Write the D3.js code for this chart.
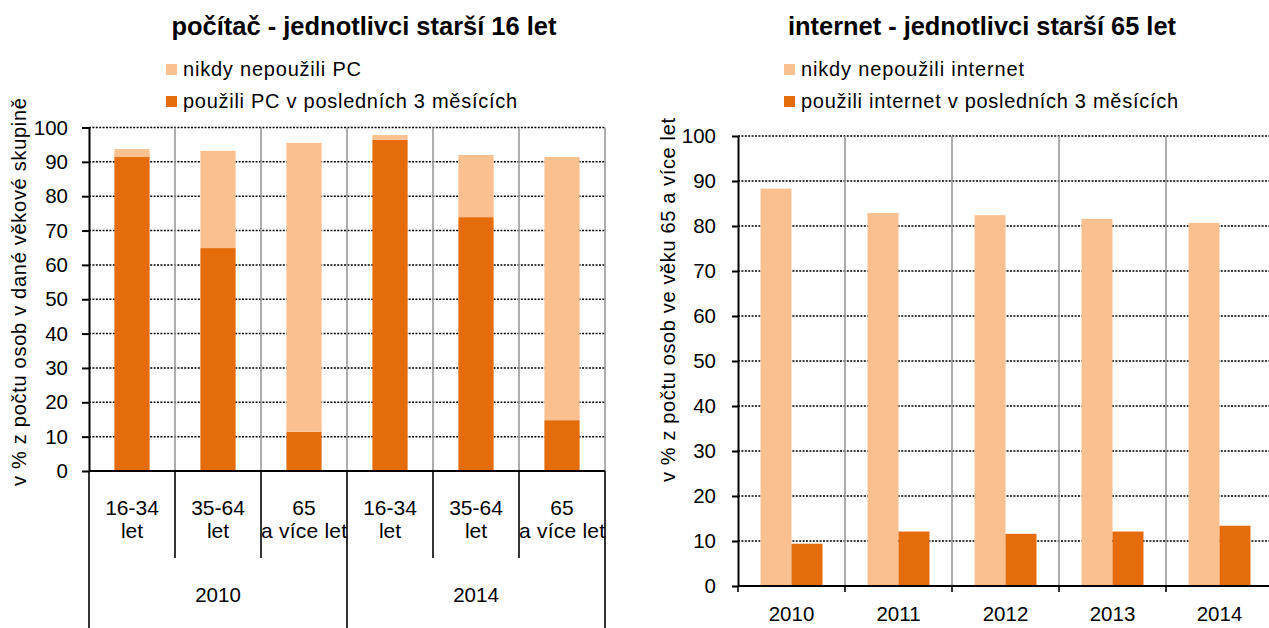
<!DOCTYPE html>
<html>
<head>
<meta charset="utf-8">
<script src="https://cdn.jsdelivr.net/npm/d3@7"></script>
<style>
body { margin: 0; background: #fff; }
text { font-family: "Liberation Sans", Arial, sans-serif; fill: #000; }
</style>
</head>
<body>
<script>
// počítač - jednotlivci starší 16 let (stacked)
var ageGroups = [["16-34", "let"], ["35-64", "let"], ["65", "a více let"]];
var pcYears = ["2010", "2014"];
var pcUsed = [91.4, 64.9, 11.4, 96.4, 73.9, 14.8];
var pcNever = [2.3, 28.3, 84.1, 1.4, 18.1, 76.6];

// internet - jednotlivci starší 65 let (grouped)
var netYears = ["2010", "2011", "2012", "2013", "2014"];
var netNever = [88.3, 82.9, 82.4, 81.6, 80.7];
var netUsed = [9.4, 12.1, 11.6, 12.1, 13.4];

var yTicks = [0, 10, 20, 30, 40, 50, 60, 70, 80, 90, 100];
var colorNever = "#FAC090";
var colorUsed = "#E46C0A";

var svg = d3.select("body").append("svg")
    .attr("width", 1269)
    .attr("height", 628);

function dotted(g) {
    g.style("stroke", "#000")
        .style("stroke-width", "1.5px")
        .style("stroke-dasharray", "2,1.4");
}

function legend(g, x, labels, lens) {
    var colors = [colorNever, colorUsed];
    var ys = [69, 101];
    for (var i = 0; i < 2; i++) {
        g.append("rect")
            .attr("x", x).attr("y", ys[i] - 5)
            .attr("width", 11).attr("height", 11)
            .style("fill", colors[i]);
        g.append("text")
            .attr("x", x + 17).attr("y", ys[i] + 7)
            .attr("textLength", lens[i]).attr("lengthAdjust", "spacing")
            .style("font-size", "20px")
            .text(labels[i]);
    }
}

/* LEFT CHART */
var left = svg.append("g");
var pcData = [];
pcYears.forEach(function(yr, i) {
    ageGroups.forEach(function(a, j) {
        var k = i * 3 + j;
        pcData.push({idx: k, year: yr, age: a, used: pcUsed[k], never: pcNever[k]});
    });
});

var xL = d3.scaleBand().domain(d3.range(pcData.length)).range([89, 605])
    .paddingInner(0.59).paddingOuter(0.295);
var edgeL = d3.scaleLinear().domain([0, pcData.length]).range([89, 605]);
var yL = d3.scaleLinear().domain([0, 100]).range([471, 127.5]);

//gridlines
left.append("g").selectAll("line")
    .data(yTicks.slice(1))
    .enter().append("line")
    .attr("x1", 89).attr("x2", 605)
    .attr("y1", function(d) { return yL(d); })
    .attr("y2", function(d) { return yL(d); })
    .call(dotted);

left.append("g").selectAll("line")
    .data(d3.range(1, pcData.length + 1))
    .enter().append("line")
    .attr("x1", function(d) { return edgeL(d); })
    .attr("x2", function(d) { return edgeL(d); })
    .attr("y1", yL(100)).attr("y2", yL(0))
    .style("stroke", "#999").style("stroke-width", "1.6px");

//bars
left.append("g").selectAll("rect")
    .data(pcData)
    .enter().append("rect")
    .attr("x", function(d) { return xL(d.idx); })
    .attr("width", xL.bandwidth())
    .attr("y", function(d) { return yL(d.used); })
    .attr("height", function(d) { return yL(0) - yL(d.used); })
    .style("fill", colorUsed);

left.append("g").selectAll("rect")
    .data(pcData)
    .enter().append("rect")
    .attr("x", function(d) { return xL(d.idx); })
    .attr("width", xL.bandwidth())
    .attr("y", function(d) { return yL(d.used + d.never); })
    .attr("height", function(d) { return yL(d.used) - yL(d.used + d.never); })
    .style("fill", colorNever);

//y axis
var axL = left.append("g")
    .attr("transform", "translate(89,0)")
    .call(d3.axisLeft(yL).tickValues(yTicks).tickSize(7).tickSizeOuter(0).tickPadding(14));
axL.selectAll("text").style("font-size", "20.5px");
axL.selectAll("line, path").style("stroke", "#000").style("stroke-width", "2px");

//x axis, multi level
left.append("line")
    .attr("x1", 89).attr("x2", 605).attr("y1", yL(0)).attr("y2", yL(0))
    .style("stroke", "#000").style("stroke-width", "2px");
left.append("g").selectAll("line")
    .data(d3.range(0, pcData.length + 1))
    .enter().append("line")
    .attr("x1", function(d) { return edgeL(d); })
    .attr("x2", function(d) { return edgeL(d); })
    .attr("y1", yL(0))
    .attr("y2", function(d) { return d % 3 == 0 ? 628 : 558; })
    .style("stroke", "#000").style("stroke-width", "1.6px");

var catLabels = left.append("g").selectAll("text")
    .data(pcData)
    .enter().append("text")
    .attr("text-anchor", "middle")
    .style("font-size", "21px");
catLabels.append("tspan")
    .attr("x", function(d) { return xL(d.idx) + xL.bandwidth() / 2; })
    .attr("y", 515)
    .text(function(d) { return d.age[0]; });
catLabels.append("tspan")
    .attr("x", function(d) { return xL(d.idx) + xL.bandwidth() / 2; })
    .attr("y", 538)
    .attr("textLength", function(d) { return d.age[1].length > 3 ? 86 : null; })
    .text(function(d) { return d.age[1]; });

left.append("g").selectAll("text")
    .data(pcYears)
    .enter().append("text")
    .attr("x", function(d, i) { return edgeL(i * 3 + 1.5); })
    .attr("y", 602)
    .attr("text-anchor", "middle")
    .style("font-size", "20.5px")
    .text(function(d) { return d; });

left.append("text")
    .attr("transform", "translate(26,292) rotate(-90)")
    .attr("text-anchor", "middle")
    .attr("textLength", 388).attr("lengthAdjust", "spacing")
    .style("font-size", "20px")
    .text("v % z počtu osob v dané věkové skupině");

left.append("text")
    .attr("x", 364).attr("y", 35)
    .attr("text-anchor", "middle")
    .attr("textLength", 385).attr("lengthAdjust", "spacingAndGlyphs")
    .style("font-size", "26px").style("font-weight", "bold")
    .text("počítač - jednotlivci starší 16 let");

legend(left, 166, ["nikdy nepoužili PC", "použili PC v posledních 3 měsících"], [178, 334]);

/* RIGHT CHART */
var right = svg.append("g");
var series = ["never", "used"];
var netData = netYears.map(function(yr, i) { return {year: yr, never: netNever[i], used: netUsed[i]}; });

var xR = d3.scaleBand().domain(netYears).range([738, 1273]).padding(0);
var xInner = d3.scaleBand().domain(series).range([0, xR.bandwidth()])
    .paddingInner(0).paddingOuter(0.726);
var yR = d3.scaleLinear().domain([0, 100]).range([586, 136]);

right.append("g").selectAll("line")
    .data(yTicks.slice(1))
    .enter().append("line")
    .attr("x1", 738).attr("x2", 1269)
    .attr("y1", function(d) { return yR(d); })
    .attr("y2", function(d) { return yR(d); })
    .call(dotted);

right.append("g").selectAll("line")
    .data(netYears.slice(1))
    .enter().append("line")
    .attr("x1", function(d) { return xR(d); })
    .attr("x2", function(d) { return xR(d); })
    .attr("y1", yR(100)).attr("y2", yR(0))
    .style("stroke", "#999").style("stroke-width", "1.6px");

var groups = right.append("g").selectAll("g")
    .data(netData)
    .enter().append("g")
    .attr("transform", function(d) { return "translate(" + xR(d.year) + ",0)"; });
groups.selectAll("rect")
    .data(function(d) { return series.map(function(s) { return {key: s, value: d[s]}; }); })
    .enter().append("rect")
    .attr("x", function(d) { return xInner(d.key); })
    .attr("width", xInner.bandwidth())
    .attr("y", function(d) { return yR(d.value); })
    .attr("height", function(d) { return yR(0) - yR(d.value); })
    .style("fill", function(d) { return d.key == "never" ? colorNever : colorUsed; });

var axR = right.append("g")
    .attr("transform", "translate(738,0)")
    .call(d3.axisLeft(yR).tickValues(yTicks).tickSize(6).tickSizeOuter(0).tickPadding(16));
axR.selectAll("text").style("font-size", "20.5px");
axR.selectAll("line, path").style("stroke", "#000").style("stroke-width", "2px");

right.append("line")
    .attr("x1", 738).attr("x2", 1269).attr("y1", yR(0)).attr("y2", yR(0))
    .style("stroke", "#000").style("stroke-width", "2px");
right.append("g").selectAll("line")
    .data(netYears)
    .enter().append("line")
    .attr("x1", function(d) { return xR(d); })
    .attr("x2", function(d) { return xR(d); })
    .attr("y1", yR(0)).attr("y2", yR(0) + 6)
    .style("stroke", "#000").style("stroke-width", "1.6px");

right.append("g").selectAll("text")
    .data(netYears)
    .enter().append("text")
    .attr("x", function(d) { return xR(d) + xR.bandwidth() / 2; })
    .attr("y", 621)
    .attr("text-anchor", "middle")
    .style("font-size", "20.5px")
    .text(function(d) { return d; });

right.append("text")
    .attr("transform", "translate(675,300) rotate(-90)")
    .attr("text-anchor", "middle")
    .attr("textLength", 364).attr("lengthAdjust", "spacing")
    .style("font-size", "20px")
    .text("v % z počtu osob ve věku 65 a více let");

right.append("text")
    .attr("x", 982).attr("y", 35)
    .attr("text-anchor", "middle")
    .attr("textLength", 388).attr("lengthAdjust", "spacingAndGlyphs")
    .style("font-size", "26px").style("font-weight", "bold")
    .text("internet - jednotlivci starší 65 let");

legend(right, 784, ["nikdy nepoužili internet", "použili internet v posledních 3 měsících"], [223, 377]);
</script>
</body>
</html>
